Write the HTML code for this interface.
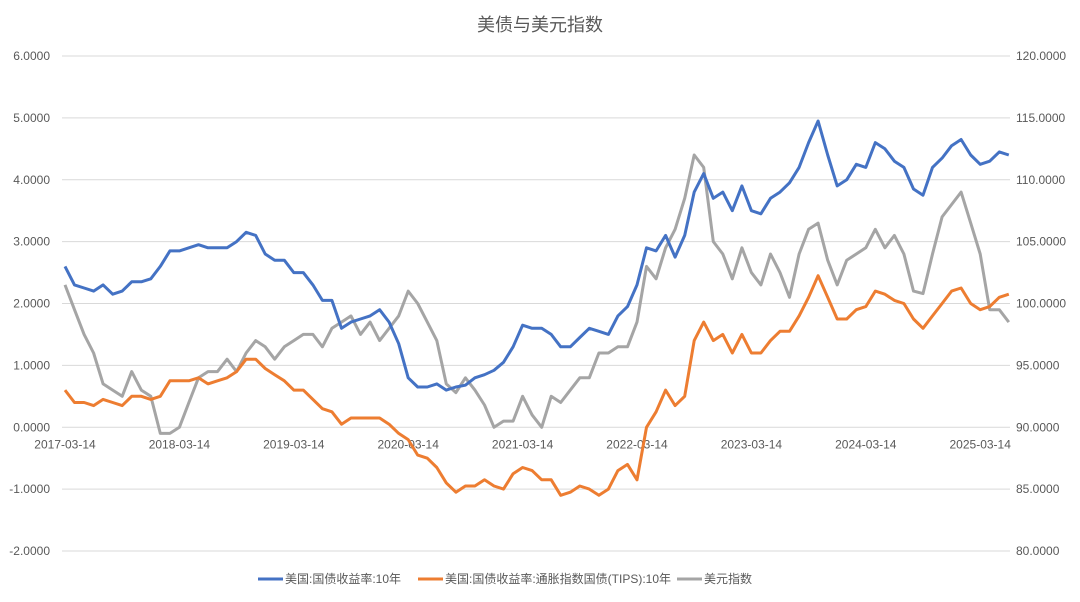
<!DOCTYPE html>
<html><head><meta charset="utf-8"><style>
html,body{margin:0;padding:0;background:#fff;}
svg{display:block;font-family:"Liberation Sans","Noto Sans CJK SC",sans-serif;}
</style></head><body>
<svg id="chart" width="1080" height="602" viewBox="0 0 1080 602" xmlns="http://www.w3.org/2000/svg">
<rect width="1080" height="602" fill="#fff"/>
<text x="540" y="31" text-anchor="middle" font-size="18" fill="#595959">美债与美元指数</text>
<g id="grid"></g><g id="ylabels"></g><g id="xlabels"></g><g id="series"></g>
<g font-size="12" fill="#595959">
<g><line x1="258" y1="579" x2="283" y2="579" stroke="#4472C4" stroke-width="3"/><text x="285" y="583">美国:国债收益率:10年</text></g>
<g><line x1="418" y1="579" x2="443" y2="579" stroke="#ED7D31" stroke-width="3"/><text x="445" y="583">美国:国债收益率:通胀指数国债(TIPS):10年</text></g>
<g><line x1="677" y1="579" x2="702" y2="579" stroke="#A5A5A5" stroke-width="3"/><text x="704" y="583">美元指数</text></g>
</g>
</svg>
<script>
const leftTicks=["6.0000","5.0000","4.0000","3.0000","2.0000","1.0000","0.0000","-1.0000","-2.0000"];
const rightTicks=["120.0000","115.0000","110.0000","105.0000","100.0000","95.0000","90.0000","85.0000","80.0000"];
const xTickLabels=["2017-03-14","2018-03-14","2019-03-14","2020-03-14","2021-03-14","2022-03-14","2023-03-14","2024-03-14","2025-03-14"];
// monthly values starting 2017-03
const yield10=[2.6,2.3,2.25,2.2,2.3,2.15,2.2,2.35,2.35,2.4,2.6,2.85,2.85,2.9,2.95,2.9,2.9,2.9,3.0,3.15,3.1,2.8,2.7,2.7,2.5,2.5,2.3,2.05,2.05,1.6,1.7,1.75,1.8,1.9,1.7,1.35,0.8,0.65,0.65,0.7,0.6,0.65,0.68,0.8,0.85,0.92,1.05,1.3,1.65,1.6,1.6,1.5,1.3,1.3,1.45,1.6,1.55,1.5,1.8,1.95,2.3,2.9,2.85,3.1,2.75,3.1,3.8,4.1,3.7,3.8,3.5,3.9,3.5,3.45,3.7,3.8,3.95,4.2,4.6,4.95,4.4,3.9,4.0,4.25,4.2,4.6,4.5,4.3,4.2,3.85,3.75,4.2,4.35,4.55,4.65,4.4,4.25,4.3,4.45,4.4];
const tips10=[0.6,0.4,0.4,0.35,0.45,0.4,0.35,0.5,0.5,0.45,0.5,0.75,0.75,0.75,0.8,0.7,0.75,0.8,0.9,1.1,1.1,0.95,0.85,0.75,0.6,0.6,0.45,0.3,0.25,0.05,0.15,0.15,0.15,0.15,0.05,-0.1,-0.2,-0.45,-0.5,-0.65,-0.9,-1.05,-0.95,-0.95,-0.85,-0.95,-1.0,-0.75,-0.65,-0.7,-0.85,-0.85,-1.1,-1.05,-0.95,-1.0,-1.1,-1.0,-0.7,-0.6,-0.85,0.0,0.25,0.6,0.35,0.5,1.4,1.7,1.4,1.5,1.2,1.5,1.2,1.2,1.4,1.55,1.55,1.8,2.1,2.45,2.1,1.75,1.75,1.9,1.95,2.2,2.15,2.05,2.0,1.75,1.6,1.8,2.0,2.2,2.25,2.0,1.9,1.95,2.1,2.15];
const dxy=[101.5,99.5,97.5,96,93.5,93,92.5,94.5,93,92.5,89.5,89.5,90,92,94,94.5,94.5,95.5,94.5,96,97,96.5,95.5,96.5,97,97.5,97.5,96.5,98,98.5,99,97.5,98.5,97,98,99,101,100,98.5,97,93.5,92.8,94,93,91.8,90,90.5,90.5,92.5,91,90,92.5,92,93,94,94,96,96,96.5,96.5,98.5,103,102,104.5,106,108.5,112,111,105,104,102,104.5,102.5,101.5,104,102.5,100.5,104,106,106.5,103.5,101.5,103.5,104,104.5,106,104.5,105.5,104,101,100.8,104,107,108,109,106.5,104,99.5,99.5,98.5];

const NS="http://www.w3.org/2000/svg";
const X0=65, PXY=114.4, YT=56, YB=551;
const xOf=i=>X0+i/12*PXY;
const yL=v=>YT+(6-v)/8*(YB-YT);
const yR=v=>YT+(120-v)/40*(YB-YT);
function mk(tag,attrs,parent,text){const e=document.createElementNS(NS,tag);for(const k in attrs)e.setAttribute(k,attrs[k]);if(text!==undefined)e.textContent=text;parent.appendChild(e);return e;}
const grid=document.getElementById('grid'),yl=document.getElementById('ylabels'),xl=document.getElementById('xlabels'),ser=document.getElementById('series');
leftTicks.forEach((t,k)=>{
  const y=yL(parseFloat(t));
  const g=mk('line',{x1:62,x2:1010,y1:y,y2:y,stroke:'#d9d9d9','stroke-width':1},grid);
  
  
  const a=mk('text',{x:50,y:y+4,'text-anchor':'end','font-size':12,fill:'#595959'},yl,t);
  
  
  const r=rightTicks[k];
  const b=mk('text',{x:1016,y:yR(parseFloat(r))+4,'font-size':12,fill:'#595959'},yl,r);
  
  
});
xTickLabels.forEach((t,k)=>{
  const e=mk('text',{x:xOf(k*12),y:yL(0)+21,'text-anchor':'middle','font-size':12,fill:'#595959'},xl,t);
  
  
});
function line(arr,yf,color,name){
  const d=arr.map((v,i)=>(i?'L':'M')+xOf(i).toFixed(1)+','+yf(v).toFixed(1)).join('');
  const p=mk('path',{d:d,fill:'none',stroke:color,'stroke-width':3,'stroke-linejoin':'round'},ser);
  
  
}
line(dxy,yR,'#A5A5A5','dxy-line');
line(tips10,yL,'#ED7D31','tips-10y-line');
line(yield10,yL,'#4472C4','treasury-10y-line');
</script>
</body></html>
